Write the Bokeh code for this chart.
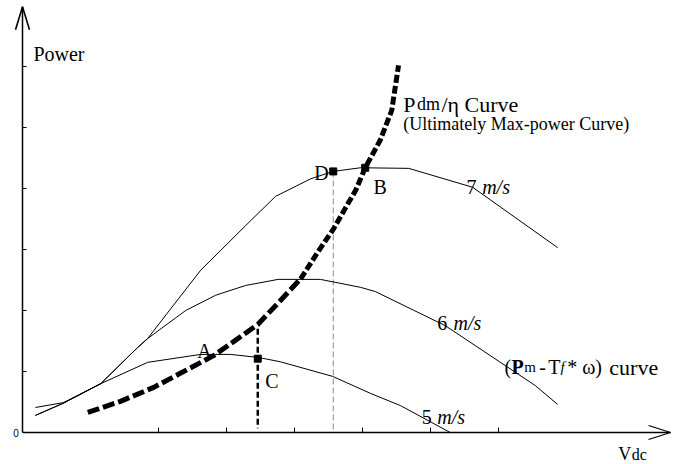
from bokeh.plotting import figure
from bokeh.models import Range1d
from bokeh.core.properties import value
from bokeh.embed import file_html
from bokeh.resources import INLINE

# ---------------- data (arbitrary units: Vdc on x, Power on y) ----------------
v7_x = [0.19, 0.60, 1.15, 1.69, 1.84, 2.62, 3.28, 3.72, 4.24, 4.57, 4.97, 5.68, 6.62, 7.87]
v7_y = [0.28, 0.48, 0.80, 1.39, 1.54, 2.66, 3.39, 3.87, 4.16, 4.28, 4.34, 4.33, 4.02, 3.03]

v6_x = [0.19, 0.60, 1.15, 1.69, 1.84, 2.40, 2.84, 3.28, 3.76, 4.38, 4.97, 5.19, 6.22, 7.54, 7.87]
v6_y = [0.28, 0.48, 0.80, 1.39, 1.54, 2.00, 2.25, 2.41, 2.51, 2.51, 2.38, 2.31, 1.75, 0.77, 0.46]

v5_x = [0.19, 0.60, 1.15, 1.84, 2.62, 3.06, 3.47, 3.79, 4.56, 5.12, 5.56, 6.29]
v5_y = [0.41, 0.49, 0.80, 1.15, 1.28, 1.28, 1.23, 1.16, 0.92, 0.64, 0.44, 0.00]

pdm_x = [0.96, 1.44, 1.93, 2.32, 2.81, 3.13, 3.46, 3.79, 4.09, 4.35, 4.57, 4.78, 4.90, 5.04, 5.26, 5.43, 5.53]
pdm_y = [0.33, 0.51, 0.74, 0.97, 1.26, 1.51, 1.77, 2.16, 2.52, 2.97, 3.33, 3.74, 3.97, 4.34, 4.79, 5.28, 6.02]

point_names = ["D", "B", "C"]
point_x = [4.57, 5.04, 3.46]
point_y = [4.28, 4.34, 1.21]

x_ticks = [2, 3, 4, 5, 6, 7]
y_ticks = [1, 2, 3, 4, 5, 6]

# ---------------- layout ----------------
W, H = 676, 464
PX_X = 68.0   # pixels per x unit
PX_Y = 61.0   # pixels per y unit
X0, Y0 = 22.0, 432.0  # pixel position of origin
AX_X_END = 9.53
AX_Y_END = 6.98

p = figure(width=W, height=H, output_backend="svg", toolbar_location=None,
           x_range=Range1d(-X0 / PX_X, (W - X0) / PX_X),
           y_range=Range1d(-(H - Y0) / PX_Y, Y0 / PX_Y),
           x_axis_location=None, y_axis_location=None,
           min_border=0, outline_line_color=None, background_fill_color="white")
p.grid.visible = False

SERIF = value("Liberation Serif")

# axes
p.segment(x0=[0, 0], y0=[0, 0], x1=[AX_X_END, 0], y1=[0, AX_Y_END],
          line_color="black", line_width=1.5)
# arrow heads (sizes in pixels)
ah_len, ah_half = 22, 7
p.line(x=[AX_X_END - ah_len / PX_X, AX_X_END, AX_X_END - ah_len / PX_X],
       y=[ah_half / PX_Y, 0, -ah_half / PX_Y], line_color="black", line_width=1.3)
p.line(x=[-ah_half / PX_X, 0, ah_half / PX_X],
       y=[AX_Y_END - 23 / PX_Y, AX_Y_END, AX_Y_END - 23 / PX_Y], line_color="black", line_width=1.6)
# ticks
p.segment(x0=x_ticks, y0=[0] * len(x_ticks), x1=x_ticks, y1=[5 / PX_Y] * len(x_ticks),
          line_color="black", line_width=1)
p.segment(x0=[0] * len(y_ticks), y0=y_ticks, x1=[4 / PX_X] * len(y_ticks), y1=y_ticks,
          line_color="black", line_width=1)

# guide lines
p.line(x=[point_x[0], point_x[0]], y=[point_y[0], 0.03], line_color="#888888",
       line_width=1, line_dash="6 3")
p.line(x=[point_x[2], point_x[2]], y=[1.70, 0.07], line_color="black",
       line_width=2.5, line_dash="6 3")

# wind-speed curves
for xs, ys in [(v7_x, v7_y), (v6_x, v6_y), (v5_x, v5_y)]:
    p.line(x=xs, y=ys, line_color="black", line_width=1)

# Pdm/eta curve (dashes look longer on the flat part, shorter on the steep part)
SPLIT = 8
p.line(x=pdm_x[:SPLIT + 1], y=pdm_y[:SPLIT + 1], line_color="black", line_width=5, line_dash="12 4")
p.line(x=pdm_x[SPLIT:], y=pdm_y[SPLIT:], line_color="black", line_width=5, line_dash="8 3")

# points
p.scatter(x=point_x, y=point_y, marker="square", size=7, color="black")


def txt(s, x, y, size=20, style="normal", font=SERIF, align="left", baseline="alphabetic"):
    p.text(x=[x], y=[y], text=[s], text_font=font, text_font_size=f"{size}px",
           text_font_style=value(style), text_color="black",
           text_align=align, text_baseline=baseline)


txt("Power", 0.16, 6.21, 20)
txt("0", -0.096, 0, 10, font=value("Liberation Sans"), align="center", baseline="middle")
txt("V", 8.76, -0.36, 18)
txt("dc", 8.96, -0.36, 16)

txt("D", 4.29, 4.25, 20)
txt("B", 5.16, 4.02, 20)
txt("A", 2.57, 1.34, 20)
txt("C", 3.57, 0.85, 20)

txt("7", 6.53, 4.02, 20)
txt("m/s", 6.76, 4.02, 20, "italic")
txt("6", 6.10, 1.80, 20)
txt("m/s", 6.34, 1.80, 20, "italic")
txt("5", 5.87, 0.25, 20)
txt("m/s", 6.10, 0.25, 20, "italic")

txt("(", 7.09, 1.07, 20)
txt("P", 7.19, 1.07, 20, "bold")
txt("m", 7.38, 1.07, 15)
txt("-", 7.60, 1.07, 20)
txt("T", 7.73, 1.07, 20)
txt("f", 7.91, 1.07, 15, "italic")
txt("* \u03c9)", 8.01, 1.07, 20)
txt("curve", 8.63, 1.07, 22)

txt("P", 5.60, 5.38, 22)
txt("dm", 5.80, 5.38, 18)
txt("/\u03b7 Curve", 6.16, 5.38, 22)
txt("(Ultimately Max-power Curve)", 5.60, 5.05, 18)

open("out.html", "w").write(file_html(p, INLINE))
